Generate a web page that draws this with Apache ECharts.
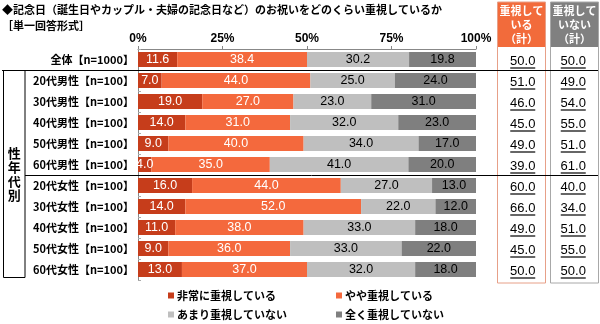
<!DOCTYPE html>
<html><head><meta charset="utf-8">
<script src="https://cdn.jsdelivr.net/npm/echarts@6/dist/echarts.min.js"></script>
<style>html,body{margin:0;padding:0;background:#fff}#c{width:600px;height:324px}</style>
</head><body><div id="c"></div>
<script>
const categories = ['全体【n=1000】','20代男性【n=100】','30代男性【n=100】','40代男性【n=100】','50代男性【n=100】','60代男性【n=100】','20代女性【n=100】','30代女性【n=100】','40代女性【n=100】','50代女性【n=100】','60代女性【n=100】'];
const seriesNames = ['非常に重視している','やや重視している','あまり重視していない','全く重視していない'];
const veryImportant = [11.6,7,19,14,9,4,16,14,11,9,13];
const somewhatImportant = [38.4,44,27,31,40,35,44,52,38,36,37];
const notMuchImportant = [30.2,25,23,32,34,41,27,22,33,33,32];
const notAtAllImportant = [19.8,24,31,23,17,20,13,12,18,22,18];
const totalImportant = [50,51,46,45,49,39,60,66,49,45,50];
const totalNotImportant = [50,49,54,55,51,61,40,34,51,55,50];
const columnHeaders = ['重視して\nいる\n（計）','重視して\nいない\n（計）'];
const xTickMax = 100, xTickInterval = 25;
const titleText = '◆記念日（誕生日やカップル・夫婦の記念日など）のお祝いをどのくらい重視しているか';
const subTitleText = '［単一回答形式］';
const groupLabel = '性\n年\n代\n別';

const colors = ['#c63d1b','#f4693d','#bfbfbf','#7f7f7f'];
const labelColors = ['#fff','#fff','#000','#000'];
const seriesData = [veryImportant, somewhatImportant, notMuchImportant, notAtAllImportant];
const JP = '"Noto Sans CJK JP"';

const chart = echarts.init(document.getElementById('c'), null, {renderer:'canvas'});

function colSeries(name, idx, values){
  return {
    type:'custom', name, xAxisIndex:1, yAxisIndex:1, silent:true,
    data: values.map((v,i)=>[idx,i,v]),
    renderItem(params, api){
      const p = api.coord([api.value(0), api.value(1)]);
      const txt = api.value(2).toFixed(1);
      return {type:'group', children:[
        {type:'text', style:{text:txt, x:p[0], y:p[1]+2, align:'center', verticalAlign:'middle', textAlign:'center', textVerticalAlign:'middle', font:'13px "Liberation Sans"', fill:'#000'}},
        {type:'line', shape:{x1:p[0]-12.5, y1:p[1]+8.5, x2:p[0]+12.5, y2:p[1]+8.5}, style:{stroke:'#000', lineWidth:1.2}}
      ]};
    }
  };
}

const legendPos = [[168,290],[336,290],[168,309],[336,309]];

const option = {
  animation:false,
  title:[
    {text:titleText, left:2, top:4, padding:0, textStyle:{fontFamily:JP, fontSize:11, fontWeight:'bold', color:'#000'}},
    {text:subTitleText, left:2, top:20, padding:0, textStyle:{fontFamily:JP, fontSize:11, fontWeight:'bold', color:'#000'}}
  ],
  legend: seriesNames.map((n,i)=>({
    data:[n], left:legendPos[i][0], top:legendPos[i][1], padding:0,
    icon:'rect', itemWidth:6, itemHeight:6, itemGap:0, selectedMode:false,
    textStyle:{fontFamily:JP, fontSize:11, fontWeight:'bold', color:'#000', padding:[0,0,0,-2]}
  })),
  grid:[
    {left:138, right:124, top:49, height:231, containLabel:false},
    {left:497.5, width:101, top:49, height:231, containLabel:false}
  ],
  xAxis:[
    {type:'value', position:'top', min:0, max:xTickMax, interval:xTickInterval, gridIndex:0,
     axisLine:{show:true, lineStyle:{color:'#888', width:1}},
     axisTick:{show:true, length:3, lineStyle:{color:'#888'}},
     splitLine:{show:false},
     axisLabel:{formatter:'{value}%', margin:4, fontFamily:'"Liberation Sans"', fontSize:12, fontWeight:'bold', color:'#000'}},
    {type:'category', gridIndex:1, data:['a','b'], show:false}
  ],
  yAxis:[
    {type:'category', inverse:true, data:categories, gridIndex:0,
     axisLine:{show:true, lineStyle:{color:'#888'}},
     axisTick:{show:true, inside:true, length:3, lineStyle:{color:'#aaa'}},
     axisLabel:{margin:4, fontFamily:JP, fontSize:11, fontWeight:'bold', color:'#000'}},
    {type:'category', inverse:true, data:categories, gridIndex:1, show:false}
  ],
  series: seriesNames.map((n,i)=>({
    name:n, type:'bar', stack:'all', barWidth:15, xAxisIndex:0, yAxisIndex:0,
    data:seriesData[i], itemStyle:{color:colors[i]},
    label:{show:true, position:'inside', formatter:p=>p.value.toFixed(1), color:labelColors[i], fontFamily:'"Liberation Sans"', fontSize:12.5}
  })).concat([colSeries('重視している（計）',0,totalImportant), colSeries('重視していない（計）',1,totalNotImportant)])
};
chart.setOption(option);

// decorations positioned from the axis scale
const yc = i => chart.convertToPixel({yAxisIndex:0}, categories[i]);
const sep1 = Math.round((yc(0)+yc(1))/2)+0.5;
const sep2 = Math.round((yc(5)+yc(6))/2)+0.5;
const lastBottom = yc(10)+8;
const colX = [497.5, 550.5];
const colW = 48;
chart.setOption({graphic:[
  {type:'rect', z:100, shape:{x:colX[0], y:2, width:colW, height:45}, style:{fill:'#f26b3b'}},
  {type:'rect', z:100, shape:{x:colX[1], y:2, width:colW, height:45}, style:{fill:'#808080'}},
  {type:'rect', z:101, shape:{x:colX[0], y:2, width:colW, height:281}, style:{fill:'none', stroke:'#e7a088', lineWidth:1}},
  {type:'rect', z:101, shape:{x:colX[1], y:2, width:colW, height:281}, style:{fill:'none', stroke:'#a8a8a8', lineWidth:1}},
  {type:'text', z:102, style:{text:columnHeaders[0], x:colX[0]+colW/2, y:25, align:'center', verticalAlign:'middle', textAlign:'center', textVerticalAlign:'middle', font:'bold 11px '+JP, lineHeight:14, fill:'#fff'}},
  {type:'text', z:102, style:{text:columnHeaders[1], x:colX[1]+colW/2, y:25, align:'center', verticalAlign:'middle', textAlign:'center', textVerticalAlign:'middle', font:'bold 11px '+JP, lineHeight:14, fill:'#fff'}},
  {type:'line', z:103, shape:{x1:2, y1:sep1, x2:598, y2:sep1}, style:{stroke:'#000', lineWidth:1}},
  {type:'line', z:103, shape:{x1:25, y1:sep2, x2:598, y2:sep2}, style:{stroke:'#000', lineWidth:1}},
  {type:'rect', z:103, shape:{x:3.5, y:sep1, width:21.5, height:lastBottom-sep1}, style:{fill:'none', stroke:'#000', lineWidth:1}},
  {type:'text', z:103, style:{text:groupLabel, x:14.25, y:(sep1+lastBottom)/2, align:'center', verticalAlign:'middle', textAlign:'center', textVerticalAlign:'middle', font:'bold 13px '+JP, lineHeight:14, fill:'#000'}}
]});
</script></body></html>
